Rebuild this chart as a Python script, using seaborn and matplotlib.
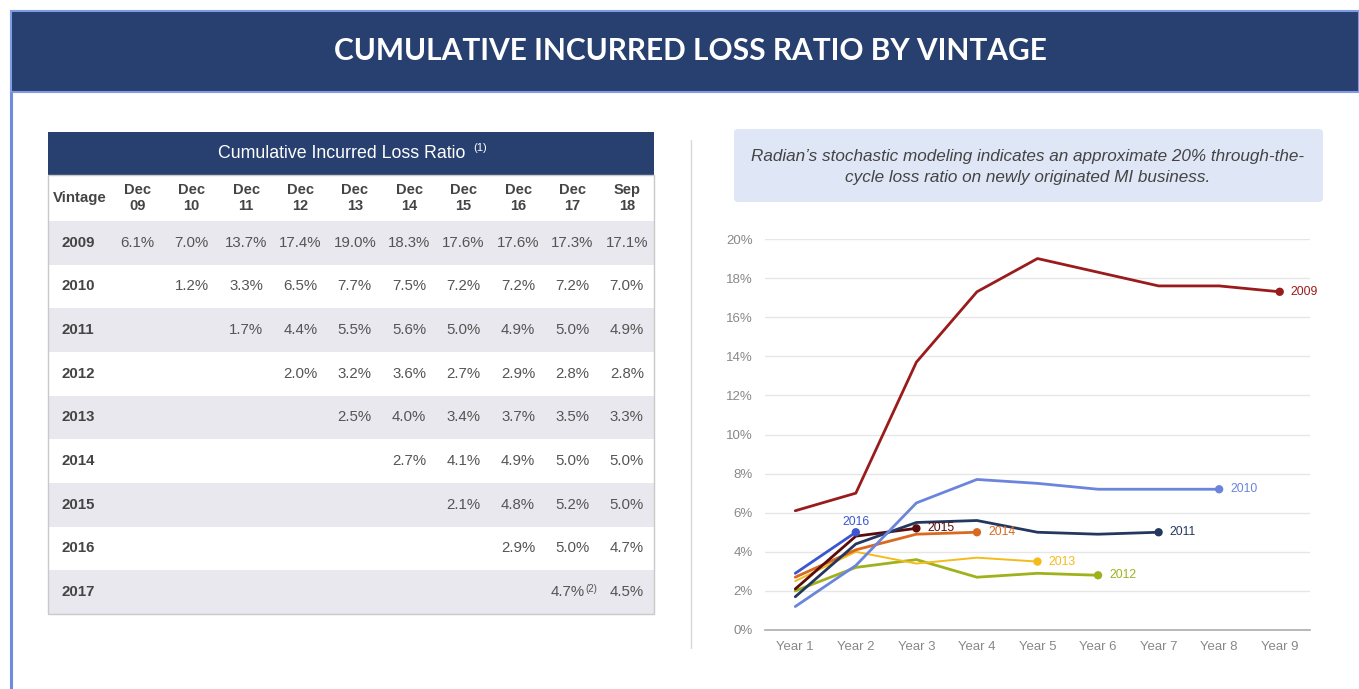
import matplotlib
matplotlib.use("Agg")
import matplotlib.pyplot as plt
from matplotlib.patches import Rectangle, FancyBboxPatch
from matplotlib.ticker import FuncFormatter
import seaborn as sns
import pandas as pd

# ---------------- data ----------------
title = "CUMULATIVE INCURRED LOSS RATIO BY VINTAGE"
table_title = "Cumulative Incurred Loss Ratio"
note = "Radian\u2019s stochastic modeling indicates an approximate 20% through-the-\ncycle loss ratio on newly originated MI business."

vintages = ["2009", "2010", "2011", "2012", "2013", "2014", "2015", "2016", "2017"]
periods = ["Dec\n09", "Dec\n10", "Dec\n11", "Dec\n12", "Dec\n13", "Dec\n14",
           "Dec\n15", "Dec\n16", "Dec\n17", "Sep\n18"]

row_2009 = [6.1, 7.0, 13.7, 17.4, 19.0, 18.3, 17.6, 17.6, 17.3, 17.1]
row_2010 = [1.2, 3.3, 6.5, 7.7, 7.5, 7.2, 7.2, 7.2, 7.0]
row_2011 = [1.7, 4.4, 5.5, 5.6, 5.0, 4.9, 5.0, 4.9]
row_2012 = [2.0, 3.2, 3.6, 2.7, 2.9, 2.8, 2.8]
row_2013 = [2.5, 4.0, 3.4, 3.7, 3.5, 3.3]
row_2014 = [2.7, 4.1, 4.9, 5.0, 5.0]
row_2015 = [2.1, 4.8, 5.2, 5.0]
row_2016 = [2.9, 5.0, 4.7]
row_2017 = [4.7, 4.5]
table_rows = [row_2009, row_2010, row_2011, row_2012, row_2013,
              row_2014, row_2015, row_2016, row_2017]

years = ["Year 1", "Year 2", "Year 3", "Year 4", "Year 5",
         "Year 6", "Year 7", "Year 8", "Year 9"]
line_2009 = [6.1, 7.0, 13.7, 17.3, 19.0, 18.3, 17.6, 17.6, 17.3]
line_2010 = [1.2, 3.3, 6.5, 7.7, 7.5, 7.2, 7.2, 7.2]
line_2011 = [1.7, 4.4, 5.5, 5.6, 5.0, 4.9, 5.0]
line_2012 = [2.0, 3.2, 3.6, 2.7, 2.9, 2.8]
line_2013 = [2.5, 4.0, 3.4, 3.7, 3.5]
line_2014 = [2.7, 4.1, 4.9, 5.0]
line_2015 = [2.1, 4.8, 5.2]
line_2016 = [2.9, 5.0]
line_vintages = ["2012", "2013", "2014", "2016", "2015", "2011", "2010", "2009"]
line_values = {"2009": line_2009, "2010": line_2010, "2011": line_2011,
               "2012": line_2012, "2013": line_2013, "2014": line_2014,
               "2015": line_2015, "2016": line_2016}

colors = {"2009": "#9a1b1b", "2010": "#6b84dc", "2011": "#24375f",
          "2012": "#9fb21c", "2013": "#f4bb1c", "2014": "#d8691f",
          "2015": "#5a0c0c", "2016": "#3b57cf"}
widths = {"2009": 2.0, "2010": 2.0, "2011": 2.0, "2012": 2.0, "2013": 1.4,
          "2014": 2.0, "2015": 2.0, "2016": 2.0}

NAVY = "#28406f"

# ---------------- figure ----------------
sns.set_theme(style="white")
plt.rcParams["font.family"] = ["Liberation Sans", "DejaVu Sans"]

W, H = 1359, 689
fig = plt.figure(figsize=(W / 100, H / 100), dpi=100)
bg = fig.add_axes([0, 0, 1, 1], zorder=0)
bg.set_xlim(0, W)
bg.set_ylim(H, 0)
bg.axis("off")

# banner + frame
bg.add_patch(Rectangle((11, 11), W - 11, 81, facecolor=NAVY,
                       edgecolor="#7f9be6", lw=1.5))
bg.plot([11, 11], [92, H], color="#6d8ce0", lw=2.2, solid_capstyle="butt")
bg.text(690, 51, title, color="white", fontsize=21.5, fontweight="bold",
        family=["Lato", "DejaVu Sans"], ha="center", va="center")

# ---------------- table ----------------
tx0, tx1 = 48, 654
vint_w = 62
col_w = (tx1 - tx0 - vint_w) / len(periods)
title_top, title_bot = 132, 175
head_bot = 221
row_h = (614 - head_bot) / len(vintages)

bg.add_patch(Rectangle((tx0, title_top), tx1 - tx0, title_bot - title_top,
                       facecolor=NAVY, edgecolor="none"))
bg.text(342, 154, table_title, color="white", fontsize=12.8,
        ha="center", va="center")
bg.text(473, 148, "(1)", color="white", fontsize=8, ha="left", va="center")

bg.text(tx0 + vint_w / 2 + 1, 198, "Vintage", color="#444444", fontsize=10.8,
        fontweight="bold", ha="center", va="center")
for j, p in enumerate(periods):
    cx = tx0 + vint_w + col_w * (j + 0.5)
    bg.text(cx, 198, p, color="#444444", fontsize=10.5, fontweight="bold",
            ha="center", va="center", linespacing=1.2)

for i, (v, row) in enumerate(zip(vintages, table_rows)):
    top = head_bot + i * row_h
    cy = top + row_h / 2
    if i % 2 == 0:
        bg.add_patch(Rectangle((tx0, top), tx1 - tx0, row_h,
                               facecolor="#e8e8ee", edgecolor="none"))
    bg.text(tx0 + 30, cy, v, color="#444444", fontsize=10.8, fontweight="bold",
            ha="center", va="center")
    start = len(periods) - len(row)
    for k, val in enumerate(row):
        cx = tx0 + vint_w + col_w * (start + k + 0.5)
        if v == "2017" and k == 0:
            bg.text(cx + 12, cy, f"{val:.1f}%", color="#555555", fontsize=10.8,
                    ha="right", va="center")
            bg.text(cx + 13, cy - 3, "(2)", color="#555555", fontsize=7,
                    ha="left", va="center")
        else:
            bg.text(cx, cy, f"{val:.1f}%", color="#555555", fontsize=10.8,
                    ha="center", va="center")

bg.add_patch(Rectangle((tx0, title_bot), tx1 - tx0, 614 - title_bot,
                       facecolor="none", edgecolor="#c9c9c9", lw=1))

# divider
bg.plot([691, 691], [140, 648], color="#d9d9d9", lw=1)

# note box
bg.add_patch(FancyBboxPatch((734, 129), 589, 73,
                            boxstyle="round,pad=0,rounding_size=4",
                            facecolor="#dfe7f7", edgecolor="none"))
bg.text(1028, 167, note, color="#444444", fontsize=12.3, style="italic",
        ha="center", va="center", linespacing=1.45)

# ---------------- line chart ----------------
ax = fig.add_axes([765 / W, 1 - 630 / H, 545 / W, 391 / H], zorder=2)
ax.patch.set_alpha(0)

records = []
for v in line_vintages:
    for k, val in enumerate(line_values[v]):
        records.append({"vintage": v, "x": k, "value": val})
df = pd.DataFrame(records)

for v in line_vintages:
    sub = df[df["vintage"] == v]
    sns.lineplot(data=sub, x="x", y="value", color=colors[v],
                 lw=widths[v], ax=ax, legend=False)
    last = sub.iloc[[-1]]
    sns.scatterplot(data=last, x="x", y="value", color=colors[v], s=36,
                    edgecolor="none", ax=ax, legend=False, zorder=5)
    lx, ly = last["x"].iloc[0], last["value"].iloc[0]
    if v == "2016":
        ax.annotate(v, (lx, ly), xytext=(0, 7.5), textcoords="offset points",
                    color=colors[v], fontsize=8.8, ha="center", va="center")
    else:
        ax.annotate(v, (lx, ly), xytext=(8, 0), textcoords="offset points",
                    color=colors[v], fontsize=8.8, ha="left", va="center")

ax.set_xlim(-0.5, len(years) - 0.5)
ax.set_ylim(0, 20)
ax.set_xticks(range(len(years)), years)
ax.set_yticks(range(0, 21, 2))
ax.yaxis.set_major_formatter(FuncFormatter(lambda y, _: f"{y:.0f}%"))
ax.set_xlabel("")
ax.set_ylabel("")
ax.grid(axis="y", color="#e6e6e6", lw=1)
ax.set_axisbelow(True)
for s in ["top", "right", "left"]:
    ax.spines[s].set_visible(False)
ax.spines["bottom"].set_color("#b0b0b0")
ax.tick_params(axis="both", length=0, labelsize=9.5, colors="#888888")
ax.tick_params(axis="y", pad=9)
ax.tick_params(axis="x", pad=8)

fig.savefig("out.png", dpi=100)
